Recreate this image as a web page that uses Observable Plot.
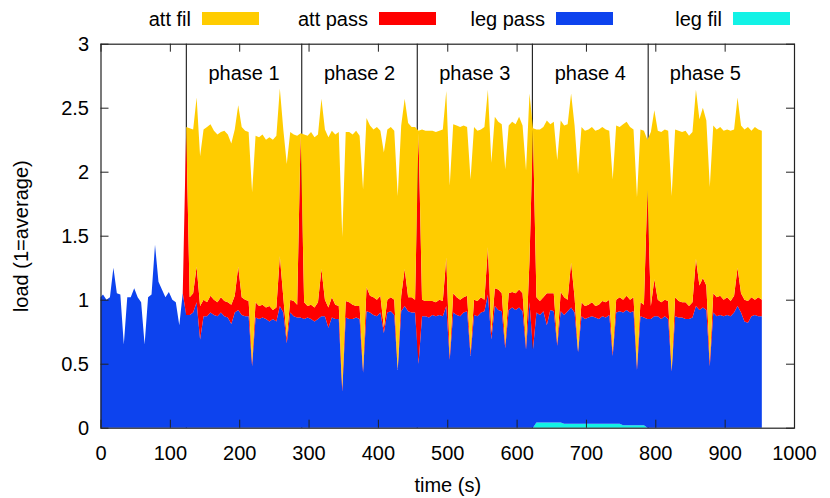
<!DOCTYPE html>
<html><head><meta charset="utf-8">
<script src="https://cdn.jsdelivr.net/npm/d3@7"></script>
<script src="https://cdn.jsdelivr.net/npm/@observablehq/plot@0.6"></script>
<style>
body{margin:0;background:#fff;}
#wrap{position:relative;width:830px;height:498px;font-family:"Liberation Sans",Arial,sans-serif;color:#000;}
.lt{position:absolute;font-size:20px;line-height:20px;text-align:right;white-space:nowrap;}
.ls{position:absolute;}
</style></head><body><div id="wrap"></div>
<script>
// series (legend order) and colours
const seriesNames = ["att fil", "att pass", "leg pass", "leg fil"];
const seriesColors = ["#ffcc00", "#ff0000", "#0d43ee", "#12f2e6"];
const stackOrder = ["leg fil", "leg pass", "att pass", "att fil"];

// samples: first at t=0, then every 5 s starting at 3.6 s
const sampleStart = 3.6, sampleStep = 5;

const legPass = [
 1.02,1.04,1.00,1.02,1.25,1.05,1.04,0.65,1.02,1.02,
 1.09,1.02,0.98,0.65,1.02,1.04,1.43,1.14,1.08,1.02,
 1.06,1.00,0.98,0.80,1.05,
 .88,.88,.90,.98,.69,.87,.87,.90,.88,.87,
 .90,.87,.86,.81,.90,.92,.88,.87,.87,.48,
 .86,.85,.86,.85,.83,.85,.83,.95,.90,.66,
 .90,.87,.86,.86,.85,.86,.85,.83,.85,.87,
 .87,.78,.86,.85,.85,.28,.86,.85,.85,.86,
 .85,.43,.91,.90,.88,.87,.90,.74,.90,.91,
 .88,.45,.91,.95,.91,.90,.90,.50,.87,.87,
 .86,.88,.87,.88,.87,.95,.53,.90,.88,.87,
 .90,.91,.56,.88,.87,.90,.91,1.04,.69,.95,
 .92,.91,.62,.92,.94,.92,.94,.91,.61,.98,
 .61,.86,.84,.87,.76,.88,.87,.60,.87,.85,
 .88,.91,.87,.56,.84,.82,.83,.84,.83,.82,
 .84,.83,.85,.53,.87,.88,.88,.90,.88,.89,
 .43,.85,.84,.85,.85,.87,.87,.85,.87,.85,
 .44,.87,.86,.86,.85,.85,.86,.95,.92,.94,
 .92,.48,.90,.87,.88,.87,.88,.87,.90,.95,
 .90,.83,.82,.87,.88,.87,.87
];
const attPass = [
 0,0,0,0,0,0,0,0,0,0,
 0,0,0,0,0,0,0,0,0,0,
 0,0,0,0,0,
 1.47,.14,.15,.28,.26,.13,.11,.13,.12,.11,
 .12,.12,.12,.15,.13,.34,.14,.13,.12,.03,
 .12,.10,.10,.09,.12,.07,.11,.39,.12,.04,
 .10,.12,.10,1.44,.13,.09,.11,.11,.13,.37,
 .13,.16,.16,.11,.10,.03,.13,.13,.11,.09,
 .10,.02,.19,.13,.14,.13,.13,.04,.10,.11,
 .12,.01,.12,.29,.11,.12,.10,1.80,.13,.12,
 .13,.11,.11,.12,.12,.38,.03,.15,.14,.13,
 .12,.12,.03,.12,.12,.12,.09,.37,.05,.14,
 .16,.14,.03,.13,.12,.13,.14,.14,.03,.33,
 1.72,.12,.11,.11,.25,.13,.14,.02,.15,.14,
 .09,.35,.12,.01,.11,.10,.10,.11,.09,.11,
 .12,.12,.12,.03,.10,.11,.10,.11,.10,.11,
 .03,.11,.10,1.01,.10,.29,.13,.13,.13,.14,
 .01,.15,.13,.12,.13,.10,.12,.37,.19,.23,
 .19,.04,.15,.15,.15,.13,.14,.12,.13,.30,
 .15,.17,.17,.15,.12,.15,.13
];
const attFil = [
 0,0,0,0,0,0,0,0,0,0,
 0,0,0,0,0,0,0,0,0,0,
 0,0,0,0,0,
 0,1.32,1.28,1.32,1.17,1.33,1.37,1.34,1.32,1.31,
 1.29,1.33,1.31,1.26,1.30,1.26,1.33,1.32,1.32,1.33,
 1.30,1.32,1.33,1.31,1.32,1.33,1.34,1.31,1.31,1.36,
 1.31,1.30,1.32,0,1.31,1.33,1.35,1.33,1.31,1.33,
 1.33,1.33,1.30,1.33,1.36,1.18,1.32,1.33,1.33,1.37,
 1.33,1.41,1.32,1.33,1.31,1.35,1.29,1.37,1.33,1.33,
 1.32,1.35,1.33,1.33,1.36,1.33,1.35,.02,1.33,1.33,
 1.33,1.33,1.33,1.32,1.34,1.30,1.33,1.32,1.34,1.35,
 1.34,1.32,1.35,1.35,1.33,1.31,1.35,1.23,1.33,1.34,
 1.31,1.32,1.37,1.31,1.33,1.32,1.35,1.31,1.37,1.30,
 .01,1.31,1.34,1.33,1.35,1.32,1.34,1.43,1.34,1.34,
 1.37,1.32,1.34,1.38,1.37,1.37,1.37,1.37,1.37,1.37,
 1.36,1.35,1.32,1.35,1.36,1.33,1.37,1.36,1.35,1.31,
 1.32,1.35,1.36,.39,1.36,1.32,1.32,1.33,1.33,1.33,
 1.36,1.31,1.33,1.33,1.34,1.33,1.33,1.32,1.30,1.33,
 1.29,1.36,1.31,1.31,1.32,1.32,1.31,1.33,1.30,1.33,
 1.31,1.33,1.36,1.30,1.35,1.31,1.32
];
const legFil = [
 0,0,0,0,0,0,0,0,0,0, 0,0,0,0,0,0,0,0,0,0, 0,0,0,0,0,
 0,0,0,0,0,0,0,0,0,0, 0,0,0,0,0,0,0,0,0,0, 0,0,0,0,0,0,0,0,0,0,
 0,0,0,0,0,0,0,0,0,0, 0,0,0,0,0,0,0,0,0,0, 0,0,0,0,0,0,0,0,0,0,
 0,0,0,0,0,0,0,0,0,0, 0,0,0,0,0,0,0,0,0,0, 0,0,0,0,0,0,0,0,0,0,
 0,0,0,0,0,0,0,0,0,0, 0,
 .04,.04,.04,.04,.04,.04,.04,.04,
 .03,.03,.03,.03,.03,.03,.03,.03,.03,.03,.03,.03,.03,.03,.03,.03,.03,
 .02,.02,.02,.02,.02,.02,.02,
 0,0,0,0,0,0,0,0,0,0, 0,0,0,0,0,0,0,0,0,0, 0,0,0,0,0,0,0,0,0,0, 0,0,0,0
];

// phases
const phaseNames = ["phase 1", "phase 2", "phase 3", "phase 4", "phase 5"];
const phaseBounds = [123, 289.5, 456, 622, 789, 954];

// axes
const xTicks = [0,100,200,300,400,500,600,700,800,900,1000];
const xTickLabels = ["0","100","200","300","400","500","600","700","800","900","1000"];
const yTicks = [0,0.5,1,1.5,2,2.5,3];
const yTickLabels = ["0","0.5","1","1.5","2","2.5","3"];

const seriesValues = {"leg fil": legFil, "leg pass": legPass, "att pass": attPass, "att fil": attFil};
const rows = [];
legPass.forEach((_, i) => {
  const t = i === 0 ? 0 : sampleStart + sampleStep * (i - 1);
  for (const s of stackOrder) rows.push({t, series: s, v: seriesValues[s][i]});
});
const phases = phaseNames.map((name, i) => ({name, start: phaseBounds[i], mid: (phaseBounds[i] + phaseBounds[i + 1]) / 2}));

const W = 830, H = 498, mL = 100.5, mR = 36, mT = 43.7, mB = 70.3;
const frameW = W - mL - mR, frameH = H - mT - mB;
const tickLen = 8, axisColor = "#222";

const chart = Plot.plot({
  width: W, height: H,
  marginLeft: mL, marginRight: mR, marginTop: mT, marginBottom: mB,
  style: {fontFamily: "'Liberation Sans', Arial, sans-serif", fontSize: "20px", color: "#000", background: "#fff", overflow: "visible"},
  x: {domain: [0, 1000]},
  y: {domain: [0, 3]},
  color: {domain: seriesNames, range: seriesColors},
  marks: [
    Plot.ruleX(phases, {x: "start", stroke: "#000", strokeWidth: 1}),
    Plot.areaY(rows, {x: "t", y: "v", z: "series", fill: "series", order: stackOrder}),
    Plot.text(phases, {x: "mid", text: "name", frameAnchor: "top", dy: 29, lineAnchor: "middle", fontSize: 20}),
    Plot.ruleX(xTicks, {insetTop: frameH - tickLen, stroke: axisColor}),
    Plot.ruleX(xTicks, {insetBottom: frameH - tickLen, stroke: axisColor}),
    Plot.ruleY(yTicks, {insetRight: frameW - tickLen, stroke: axisColor}),
    Plot.ruleY(yTicks, {insetLeft: frameW - tickLen, stroke: axisColor}),
    Plot.axisX(xTicks, {tickSize: 0, tickPadding: 18, fontSize: 20,
      tickFormat: d => xTickLabels[xTicks.indexOf(d)],
      label: "time (s)", labelAnchor: "center", labelOffset: 64, labelArrow: "none"}),
    Plot.axisY(yTicks, {tickSize: 0, tickPadding: 12, fontSize: 20,
      tickFormat: d => yTickLabels[yTicks.indexOf(d)],
      label: "load (1=average)", labelAnchor: "center", labelOffset: 87, labelArrow: "none"}),
    Plot.frame({stroke: axisColor, strokeWidth: 1.2})
  ]
});
const wrap = document.getElementById("wrap");
wrap.appendChild(chart);

// legend (gnuplot-style key across the top)
const keyX0 = 202, keyStep = 177, keySwW = 57, keySwH = 13, keyTop = 12, keyGap = 11;
seriesNames.forEach((name, i) => {
  const sx = keyX0 + i * keyStep;
  const t = document.createElement("div");
  t.className = "lt";
  t.textContent = name;
  t.style.right = (W - (sx - keyGap)) + "px";
  t.style.top = (keyTop - 3) + "px";
  wrap.appendChild(t);
  const s = document.createElement("div");
  s.className = "ls";
  s.style.left = sx + "px";
  s.style.top = keyTop + "px";
  s.style.width = keySwW + "px";
  s.style.height = keySwH + "px";
  s.style.background = seriesColors[i];
  wrap.appendChild(s);
});
chart.style.position = "absolute";
chart.style.left = "0px";
chart.style.top = "0px";
</script>
</body></html>
